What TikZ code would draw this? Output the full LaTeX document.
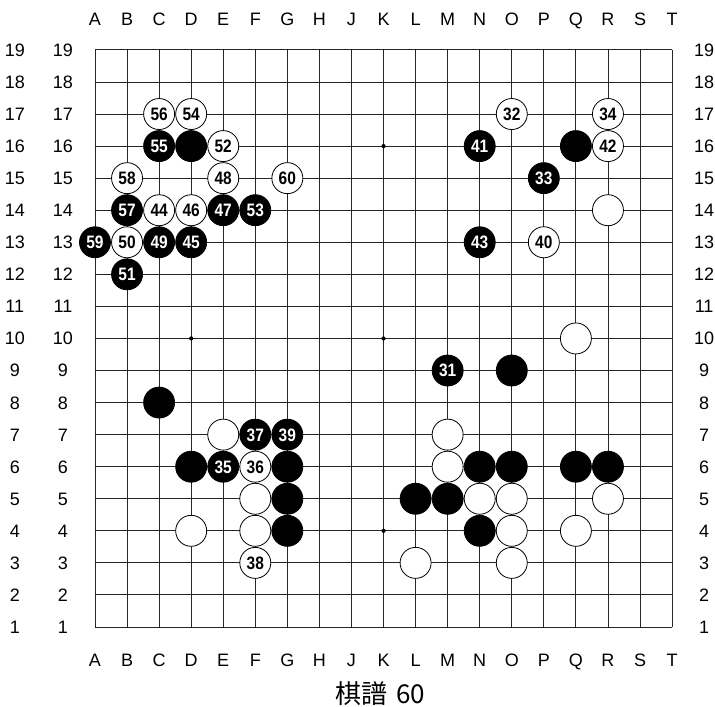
\documentclass[tikz,border=0pt]{standalone}
\usepackage{fontspec}
\setmainfont{Liberation Sans}
\newfontfamily\stonenum{Liberation Sans}[FakeStretch=0.86]
\newfontfamily\cjk{Noto Sans CJK JP}
\usetikzlibrary{positioning}

\begin{document}
\begin{tikzpicture}[x=32.06pt,y=32.06pt,
  bst/.style={circle,fill=black,draw=black,line width=0.8pt,minimum size=31pt,inner sep=0pt,
              text=white,text height=12.9pt,text depth=0pt,font=\stonenum\bfseries\fontsize{18}{18}\selectfont},
  wst/.style={bst,fill=white,text=black},
  lbl/.style={inner sep=0pt,text height=12.9pt,text depth=0pt,font=\fontsize{18}{18}\selectfont},
  hoshi/.style={circle,fill=black,inner sep=0pt,minimum size=4.2pt},
  ln/.style={line width=0.9pt,draw=black!85}
]
\useasboundingbox (-2.963,-2.495) rectangle (19.339,19.557);

\foreach \i in {0,...,18} {
  \draw[ln] (\i,0) -- (\i,18);
  \draw[ln] (0,\i) -- (18,\i);
}
\foreach \c/\r in {3/3,9/3,15/3,3/9,9/9,15/9,3/15,9/15,15/15}
  \node[hoshi] (hoshi\c-\r) at (\c,\r) {};

\foreach \l [count=\i from 0] in {A,B,C,D,E,F,G,H,J,K,L,M,N,O,P,Q,R,S,T} {
  \node[lbl] (top\l) at (\i,18.95) {\l};
  \node[lbl] (bot\l) at (\i,-1.03) {\l};
}
\foreach \r in {1,...,19} {
  \node[lbl] (outer\r) at (-2.5,\r-1) {\r};
  \node[lbl] (inner\r) at (-1,\r-1) {\r};
  \node[lbl] (right\r) at (19,\r-1) {\r};
}

\foreach \c/\r/\n in {3/16/,2/16/55,15/16/,12/16/41,14/15/33,1/14/57,4/14/47,5/14/53,
    0/13/59,2/13/49,3/13/45,12/13/43,1/12/51,11/9/31,13/9/,2/8/,5/7/37,6/7/39,
    3/6/,4/6/35,6/6/,12/6/,13/6/,15/6/,16/6/,6/5/,10/5/,11/5/,6/4/,12/4/}
  \node[bst] (b\c-\r) at (\c,\r-1) {\n};
\foreach \c/\r/\n in {2/17/56,3/17/54,13/17/32,16/17/34,4/16/52,16/16/42,1/15/58,4/15/48,
    6/15/60,2/14/44,3/14/46,16/14/,1/13/50,14/13/40,15/10/,4/7/,11/7/,5/6/36,11/6/,
    5/5/,12/5/,13/5/,16/5/,3/4/,5/4/,13/4/,15/4/,5/3/38,10/3/,13/3/}
  \node[wst] (w\c-\r) at (\c,\r-1) {\n};

\node[font=\cjk\fontsize{26}{26}\selectfont,inner sep=0pt] (caption) at (8.89,-2.09) {棋譜\hspace{0.35em}60};
\end{tikzpicture}
\end{document}
